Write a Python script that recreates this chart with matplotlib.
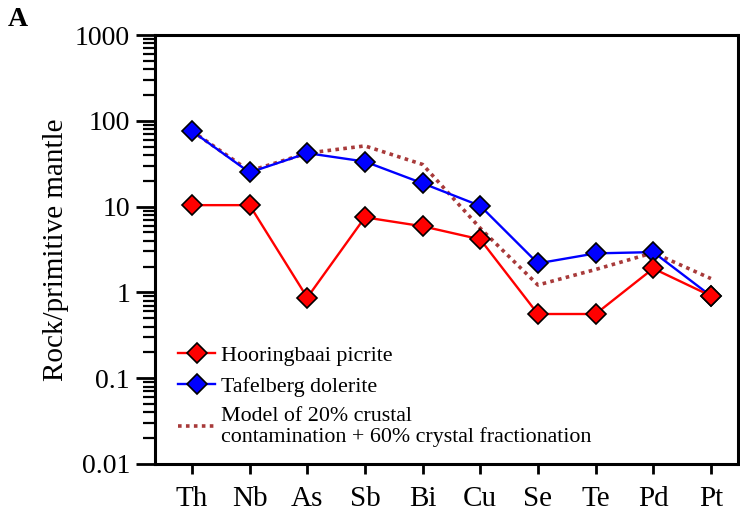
import matplotlib
matplotlib.use("Agg")
import matplotlib.pyplot as plt
from matplotlib.ticker import LogLocator, FixedFormatter, FixedLocator, NullFormatter

plt.rcParams['font.family'] = ['Liberation Serif', 'DejaVu Serif']

elements = ["Th", "Nb", "As", "Sb", "Bi", "Cu", "Se", "Te", "Pd", "Pt"]
hooringbaai = [10.4, 10.4, 0.87, 7.5, 5.9, 4.15, 0.56, 0.56, 1.9, 0.91]
tafelberg = [76, 25, 42, 33.5, 18.7, 10.2, 2.18, 2.85, 2.95, 0.91]
model = [76, 26, 42, 51, 31, 5.6, 1.22, 1.85, 2.9, 1.45]

y_ticks = [0.01, 0.1, 1, 10, 100, 1000]
y_tick_labels = ["0.01", "0.1", "1", "10", "100", "1000"]

label_red = "Hooringbaai picrite"
label_blue = "Tafelberg dolerite"
label_model = "Model of 20% crustal\ncontamination + 60% crystal fractionation"

fig = plt.figure(figsize=(7.4, 5.25), dpi=100)
ax = fig.add_axes([0.2095, 0.1162, 0.7878, 0.8171])

x = list(range(len(elements)))

ax.plot(x, model, linestyle=(0, (1, 1.2)), color="#A83A3A", linewidth=2.6,
        label=label_model, zorder=2)
ax.plot(x, tafelberg, color="#0000FF", linewidth=1.7, marker="D", markersize=10,
        markerfacecolor="#0000FF", markeredgecolor="black", markeredgewidth=1.2,
        label=label_blue, zorder=3)
ax.plot(x, hooringbaai, color="#FF0000", linewidth=1.7, marker="D", markersize=10,
        markerfacecolor="#FF0000", markeredgecolor="black", markeredgewidth=1.2,
        label=label_red, zorder=4)

ax.set_yscale("log")
ax.set_ylim(0.01, 1000)
ax.set_xlim(-0.64, 9.47)

ax.yaxis.set_major_locator(FixedLocator(y_ticks))
ax.yaxis.set_major_formatter(FixedFormatter(y_tick_labels))
ax.yaxis.set_minor_locator(LogLocator(base=10, subs=range(2, 10), numticks=20))
ax.yaxis.set_minor_formatter(NullFormatter())

ax.set_xticks(x)
ax.set_xticklabels(elements)

for s in ax.spines.values():
    s.set_linewidth(2.2)

ax.tick_params(axis="y", which="major", direction="out", length=14, width=2.0,
               labelsize=20, pad=4)
ax.tick_params(axis="y", which="minor", direction="out", length=8.5, width=1.6)
ax.tick_params(axis="x", which="major", direction="out", length=7, width=2.0,
               labelsize=21, pad=9)

ax.set_ylabel("Rock/primitive mantle", fontsize=21, labelpad=4)

handles, labels = ax.get_legend_handles_labels()
order = [2, 1, 0]
leg = ax.legend([handles[i] for i in order], [labels[i] for i in order],
                loc="lower left", bbox_to_anchor=(0.0395, 0.04), frameon=False,
                fontsize=15.8, handlelength=1.7, handletextpad=0.27,
                labelspacing=0.48, borderaxespad=0, borderpad=0)
for t in leg.get_texts():
    t.set_linespacing(1.03)

fig.text(0.024, 0.962, "A", fontsize=20, fontweight="bold", ha="center", va="center")

fig.savefig("out.png", dpi=100)
